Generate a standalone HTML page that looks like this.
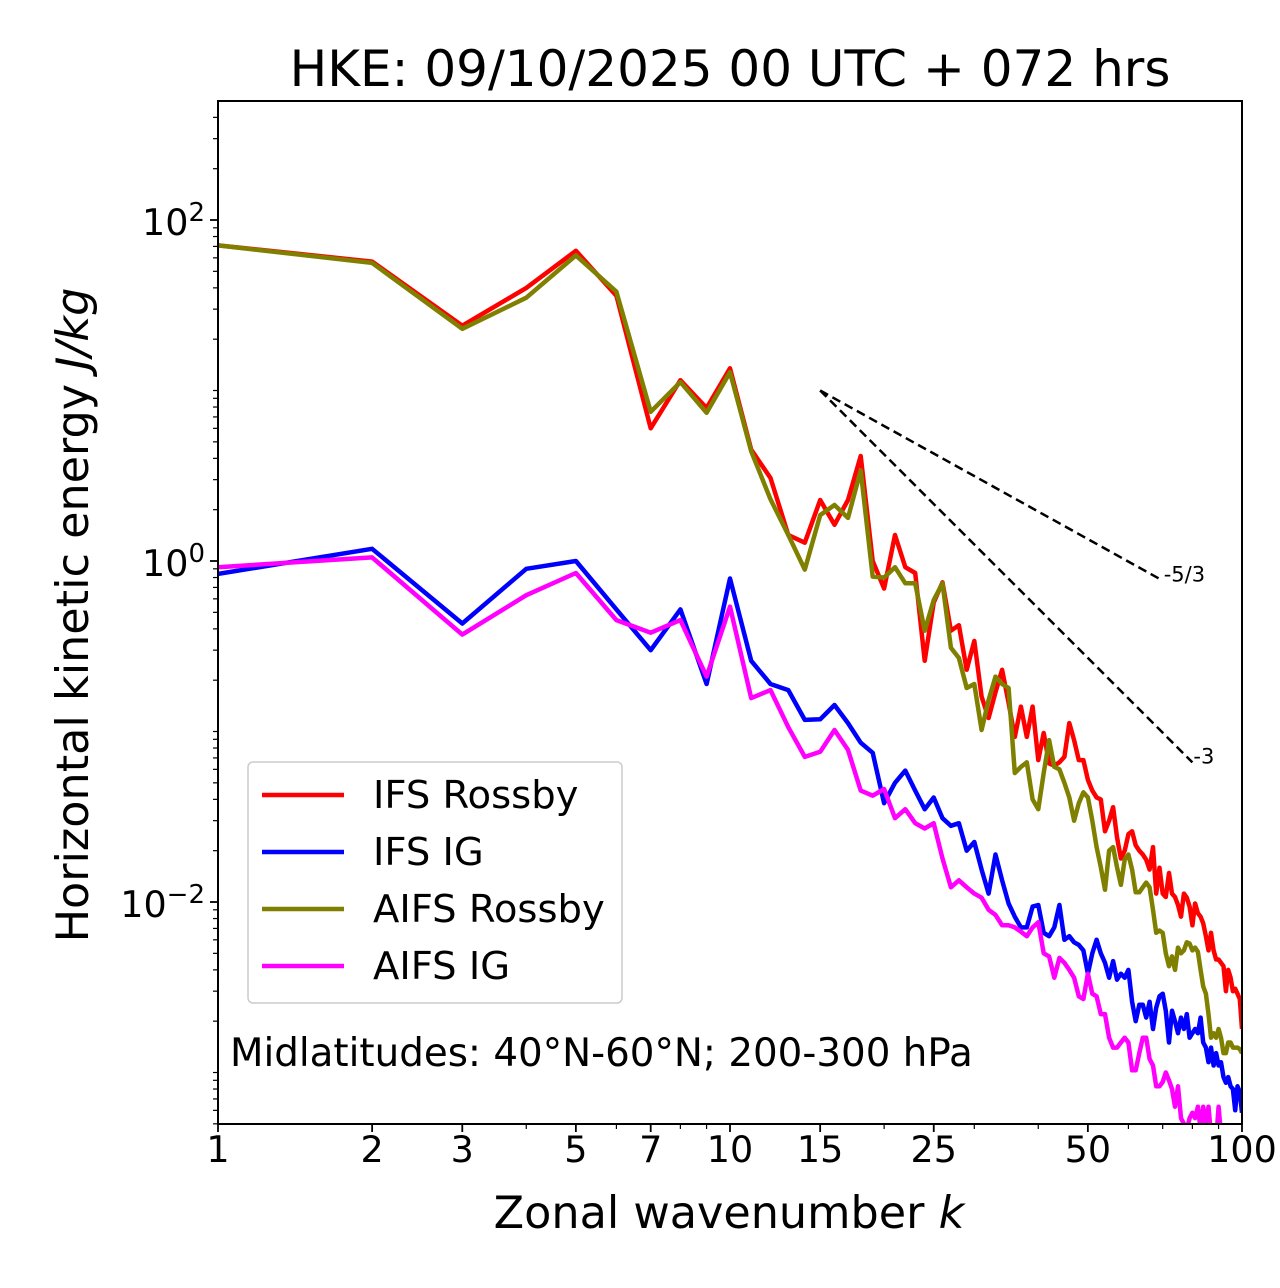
<!DOCTYPE html>
<html><head><meta charset="utf-8">
<style>
html,body{margin:0;padding:0;background:#fff;}
svg{display:block;font-family:"DejaVu Sans","Liberation Sans",sans-serif;}
</style></head>
<body>
<svg id="chart" width="1280" height="1288" viewBox="0 0 1280 1288" xmlns="http://www.w3.org/2000/svg">
<defs><clipPath id="plotclip"><rect x="218" y="101" width="1024" height="1023"/></clipPath></defs>
<text x="730" y="86" font-size="50" text-anchor="middle">HKE: 09/10/2025 00 UTC + 072 hrs</text>
<g id="series" clip-path="url(#plotclip)"></g>
<g id="axes"></g>
<text x="729" y="1228" font-size="44.5" text-anchor="middle">Zonal wavenumber <tspan font-style="italic">k</tspan></text>
<text transform="translate(88,615) rotate(-90)" font-size="44.5" text-anchor="middle">Horizontal kinetic energy <tspan font-style="italic">J/kg</tspan></text>
<text x="230" y="1066" font-size="38.8">Midlatitudes: 40°N-60°N; 200-300 hPa</text>
<g>
<rect x="248" y="762" width="374" height="241" rx="5" fill="#fff" fill-opacity="0.8" stroke="#ccc" stroke-width="1.5"/>
<line x1="262" y1="795" x2="344" y2="795" stroke="#ff0000" stroke-width="4.5"/>
<text x="373" y="808" font-size="38.5">IFS Rossby</text>
<line x1="262" y1="852" x2="344" y2="852" stroke="#0000ff" stroke-width="4.5"/>
<text x="373" y="865" font-size="38.5">IFS IG</text>
<line x1="262" y1="909" x2="344" y2="909" stroke="#808000" stroke-width="4.5"/>
<text x="373" y="922" font-size="38.5">AIFS Rossby</text>
<line x1="262" y1="966" x2="344" y2="966" stroke="#ff00ff" stroke-width="4.5"/>
<text x="373" y="979" font-size="38.5">AIFS IG</text>
</g>
</svg>
<script>
const ifsRossby=[71,57,24,40,66,36,6.0,11.5,7.9,13.5,4.5,3.07,1.42,1.28,2.28,1.63,2.28,4.13,1.0,0.69,1.42,0.92,0.85,0.26,0.57,0.75,0.39,0.42,0.23,0.34,0.16,0.12,0.17,0.23,0.147,0.093,0.14,0.093,0.14,0.068,0.098,0.065,0.063,0.066,0.071,0.112,0.089,0.068,0.068,0.052,0.045,0.041,0.04,0.026,0.030,0.036,0.024,0.018,0.020,0.025,0.026,0.0215,0.020,0.019,0.0177,0.0155,0.021,0.0112,0.0159,0.0112,0.0107,0.0148,0.0112,0.0107,0.0096,0.0082,0.0112,0.0106,0.0094,0.0073,0.0098,0.0086,0.0082,0.0075,0.0063,0.0052,0.0066,0.0052,0.0046,0.0046,0.0044,0.0042,0.0030,0.0040,0.0036,0.0030,0.0031,0.0029,0.0027,0.0018];
const ifsIG=[0.84,1.18,0.43,0.9,1.0,0.52,0.30,0.52,0.19,0.79,0.26,0.19,0.175,0.117,0.118,0.143,0.112,0.086,0.075,0.038,0.05,0.059,0.045,0.035,0.041,0.031,0.028,0.029,0.020,0.0225,0.0155,0.0112,0.019,0.0134,0.0098,0.0082,0.0071,0.0071,0.0094,0.0096,0.0066,0.0063,0.0071,0.0096,0.006,0.0063,0.0058,0.0056,0.0052,0.0038,0.005,0.006,0.005,0.0044,0.0036,0.0045,0.0035,0.0038,0.0036,0.004,0.0026,0.002,0.0025,0.0025,0.0021,0.0026,0.0018,0.0024,0.0028,0.0029,0.0023,0.0015,0.0023,0.002,0.0017,0.0021,0.0018,0.0022,0.0016,0.0017,0.0018,0.0017,0.0021,0.0015,0.0014,0.00115,0.0014,0.0011,0.0013,0.0011,0.00115,0.00094,0.00087,0.00094,0.00083,0.0008,0.0006,0.00083,0.00077,0.00058];
const aifsRossby=[71,56,23,35,62,38,7.5,11.2,7.4,12.8,4.4,2.3,1.42,0.89,1.86,2.13,1.79,3.4,0.81,0.80,0.92,0.74,0.74,0.39,0.59,0.74,0.31,0.27,0.18,0.19,0.102,0.153,0.21,0.19,0.18,0.057,0.062,0.066,0.04,0.035,0.057,0.089,0.062,0.06,0.05,0.041,0.03,0.038,0.044,0.041,0.03,0.021,0.016,0.0118,0.020,0.021,0.016,0.0126,0.0177,0.019,0.0155,0.0114,0.0114,0.0122,0.013,0.0122,0.009,0.0066,0.0068,0.0066,0.005,0.0042,0.0048,0.004,0.0054,0.005,0.0052,0.0058,0.0057,0.0052,0.0054,0.0051,0.004,0.0032,0.0029,0.0022,0.0016,0.0017,0.0016,0.0018,0.0016,0.0013,0.0013,0.0015,0.0015,0.0014,0.0014,0.0014,0.00137,0.0013];
const aifsIG=[0.92,1.05,0.37,0.63,0.85,0.45,0.38,0.45,0.21,0.54,0.157,0.175,0.106,0.071,0.076,0.102,0.078,0.045,0.042,0.046,0.031,0.035,0.029,0.027,0.029,0.018,0.0122,0.0134,0.0122,0.0112,0.0106,0.009,0.0084,0.0073,0.0073,0.0071,0.0067,0.0063,0.0071,0.0076,0.005,0.0048,0.0036,0.0047,0.0044,0.004,0.0036,0.0028,0.0027,0.0038,0.0029,0.0028,0.0022,0.0022,0.0016,0.0014,0.0014,0.0015,0.0016,0.0015,0.00103,0.00103,0.0013,0.0016,0.0016,0.0012,0.0011,0.00083,0.00083,0.00088,0.001,0.0009,0.0008,0.00063,0.00083,0.00054,0.0005,0.00046,0.00054,0.00058,0.00054,0.00063,0.00046,0.00063,0.00049,0.00063,0.00043,0.00049,0.0004,0.00063,0.00043,0.0004,0.00035,0.00035,0.0003,0.0003,0.0003,0.0003,0.0003,0.0003];
const xTickLabels=[1,2,3,5,7,10,15,25,50,100];
const xMinorTicks=[4,6,8,9,20,30,40,60,70,80,90];
const yTickExps=[-2,0,2];
const slopeRefs=[{label:"-5/3",slope:-5/3,kEnd:70},{label:"-3",slope:-3,kEnd:80}];
const refStartK=15, refStartE=10;

const X0=218,X1=1242,Y0=1124,Y1=101;
const xs=k=>X0+(Math.log10(k)-0)/2*(X1-X0);
const LY0=-3.302,LY1=2.698;
const ys=v=>Y0-(Math.log10(v)-LY0)/(LY1-LY0)*(Y0-Y1);
const NS="http://www.w3.org/2000/svg";
function mk(tag,attrs,parent){const e=document.createElementNS(NS,tag);for(const a in attrs)e.setAttribute(a,attrs[a]);parent.appendChild(e);return e;}
const sg=document.getElementById('series'), ag=document.getElementById('axes');

slopeRefs.forEach(r=>{
  const eEnd=refStartE*Math.pow(r.kEnd/refStartK,r.slope);
  const l=mk('line',{x1:xs(refStartK),y1:ys(refStartE),x2:xs(r.kEnd),y2:ys(eEnd),stroke:'#000','stroke-width':2.5,'stroke-dasharray':'9,5'},ag);
  
  
  const t=mk('text',{x:xs(r.kEnd)+1,y:ys(eEnd)+1,'font-size':21},ag);
  t.textContent=r.label;
  
  
});

const series=[[ifsRossby,'#ff0000','ifs-rossby-line'],[ifsIG,'#0000ff','ifs-ig-line'],[aifsRossby,'#808000','aifs-rossby-line'],[aifsIG,'#ff00ff','aifs-ig-line']];
series.forEach(([d,c,n])=>{
  const pts=d.map((v,i)=>xs(i+1).toFixed(1)+','+ys(v).toFixed(1)).join(' ');
  const p=mk('polyline',{points:pts,fill:'none',stroke:c,'stroke-width':4.5,'stroke-linejoin':'round'},sg);
  
  
});

const fr=mk('rect',{x:X0,y:Y1,width:X1-X0,height:Y0-Y1,fill:'none',stroke:'#000','stroke-width':2},ag);



xTickLabels.forEach(k=>{
  const x=xs(k);
  const t=mk('line',{x1:x,y1:Y0,x2:x,y2:Y0+8,stroke:'#000','stroke-width':1.8},ag);
  
  
  const tx=mk('text',{x:x,y:Y0+38,'font-size':36.5,'text-anchor':'middle'},ag);
  tx.textContent=k;
  
  
});
xMinorTicks.forEach(k=>{
  const x=xs(k);
  const t=mk('line',{x1:x,y1:Y0,x2:x,y2:Y0+5,stroke:'#000','stroke-width':1.2},ag);
  
  
});
for(let e=-4;e<=2;e++){for(let m=1;m<10;m++){
  const v=m*Math.pow(10,e);const y=ys(v);if(y<Y1||y>Y0)continue;
  const major=(m===1&&e%2===0);
  const t=mk('line',{x1:X0,y1:y,x2:X0-(major?8:5),y2:y,stroke:'#000','stroke-width':major?1.8:1.2},ag);
  
  
}}
yTickExps.forEach(e=>{
  const y=ys(Math.pow(10,e));
  const tx=mk('text',{x:X0-13,y:y+15,'font-size':36.5,'text-anchor':'end'},ag);
  
  
  const b=document.createElementNS(NS,'tspan');b.textContent='10';tx.appendChild(b);
  const s=document.createElementNS(NS,'tspan');s.setAttribute('dy','-14');s.setAttribute('font-size','26');
  s.textContent=e<0?'\u2212'+(-e):String(e);tx.appendChild(s);
});
</script>
</body></html>
